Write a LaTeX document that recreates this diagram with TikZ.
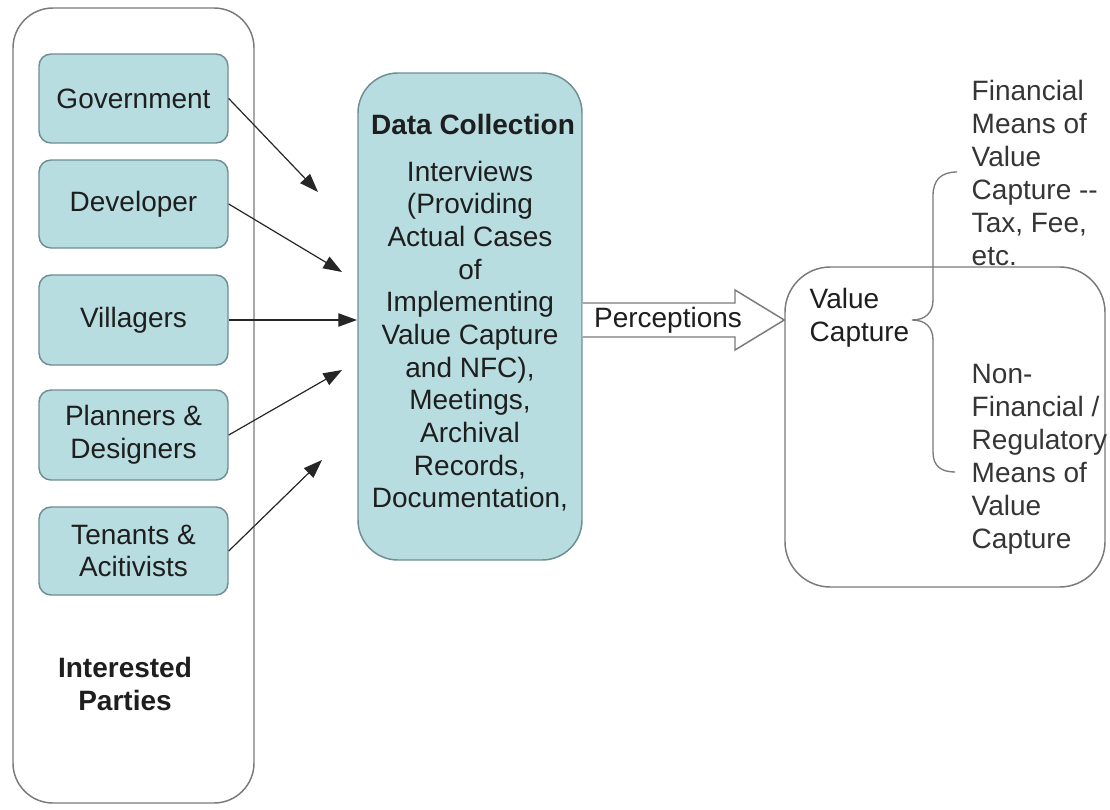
\documentclass[tikz,border=0pt]{standalone}
\usepackage{fontspec}
\setmainfont{Liberation Sans}
\usetikzlibrary{fit,arrows.meta,calc}
\definecolor{boxfill}{HTML}{B8DDE1}
\definecolor{boxline}{HTML}{6E8E92}
\definecolor{frameline}{HTML}{7A7A7A}
\definecolor{txt}{HTML}{1E1E1E}
\begin{document}
\begin{tikzpicture}[x=0.75pt,y=-0.75pt,
  every node/.style={text=txt, font=\fontsize{21}{24.5}\selectfont},
  party/.style={draw=boxline, line width=1.1pt, fill=boxfill, rounded corners=9pt, inner sep=0pt},
  frame/.style={draw=frameline, line width=1.1pt, inner sep=0pt},
  feed/.style={draw=black!85, line width=0.9pt, -{Triangle[length=14pt,width=10pt]}},
  sidetext/.style={anchor=west, align=left, text=txt!90, font=\fontsize{21}{24.75}\selectfont},
]
\useasboundingbox (0,0) rectangle (1110,810);
% interested parties frame
\node[frame, rounded corners=30pt, fit={(13,8) (254,803)}] (ip) {};
\node[party, fit={(39,54) (228,143)}] (gov) {};
\node[party, fit={(39,160) (228,248)}] (dev) {};
\node[party, fit={(39,275) (228,365)}] (vil) {};
\node[party, fit={(39,390) (228,480)}] (pla) {};
\node[party, fit={(39,507) (228,595)}] (ten) {};
\node (govt) at (gov.center) {Government};
\node (devt) at (dev.center) {Developer};
\node (vilt) at (vil.center) {Villagers};
\node[align=center] (plat) at (pla.center) {Planners \&\\Designers};
\node[align=center] (tent) at (ten.center) {Tenants \&\\Acitivists};
\node[align=center, font=\fontsize{21}{24.75}\selectfont\bfseries] (iplabel) at (125,684) {Interested\\Parties};
% data collection
\node[party, rounded corners=30pt, fit={(358,73) (582,560)}] (dc) {};
\node[font=\fontsize{21}{24.5}\selectfont\bfseries] (dctitle) at (473,124) {Data Collection};
\node[align=center] (dcbody) at (470,336) {Interviews\\(Providing\\Actual Cases\\of\\Implementing\\Value Capture\\and NFC),\\Meetings,\\Archival\\Records,\\Documentation,};
% feed arrows
\coordinate (g1) at (318,192);
\coordinate (d1) at (342,272);
\coordinate (v1) at (357,320);
\coordinate (p1) at (342,370);
\coordinate (t1) at (322,460);
\draw[feed] (gov.east) -- (g1);
\draw[feed] (dev.east) -- (d1);
\draw[feed] (vil.east |- v1) -- (v1);
\draw[feed] (pla.east) -- (p1);
\draw[feed] (ten.east) -- (t1);
% value capture
\node[frame, rounded corners=34pt, fit={(785,267) (1105,587)}] (vc) {};
\coordinate (ay) at (0,320);
\coordinate (st) at (0,303);
\coordinate (sb) at (0,337);
\draw[frame, fill=white] (dc.east |- st) -- (735,303) -- (735,290) -- (vc.west |- ay) -- (735,350) -- (735,337) -- (dc.east |- sb);
\node (perc) at (668,320) {Perceptions};
\node[anchor=west, align=left] (vclabel) at (805,318) {Value\\Capture};
% brace
\draw[draw=frameline, line width=1pt] (957,172) .. controls (941,172) and (933,180) .. (933,196) -- (933,300) .. controls (933,313) and (925,320) .. (912,320) .. controls (925,320) and (933,327) .. (933,340) -- (933,452) .. controls (933,466) and (941,472) .. (955,472);
\node[sidetext] (fin) at (967,173) {Financial\\Means of\\Value\\Capture -{}-\\Tax, Fee,\\etc.};
\node[sidetext] (nonfin) at (967,459) {Non-\\Financial /\\Regulatory\\Means of\\Value\\Capture};
\end{tikzpicture}
\end{document}
